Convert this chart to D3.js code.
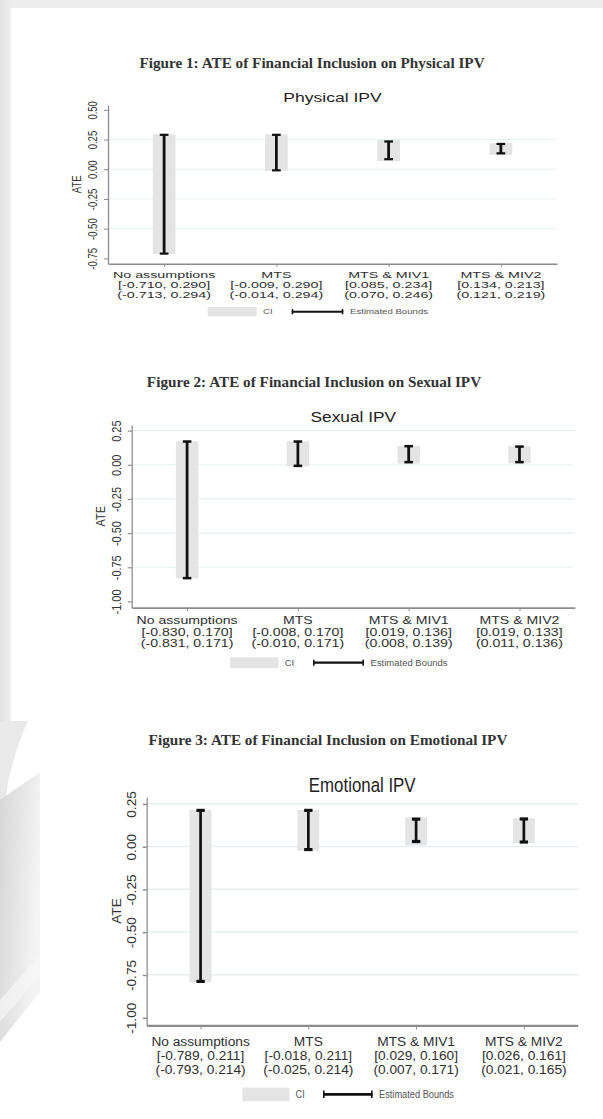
<!DOCTYPE html>
<html>
<head>
<meta charset="utf-8">
<script src="https://cdn.jsdelivr.net/npm/d3@7"></script>
<style>
  html, body { margin: 0; padding: 0; background: #fff; }
  svg { display: block; }
</style>
</head>
<body>
<svg id="page" width="603" height="1119"></svg>
<script>
// ---- data -------------------------------------------------------------
const categories = ["No assumptions", "MTS", "MTS & MIV1", "MTS & MIV2"];

const physicalBounds = [[-0.710, 0.290], [-0.009, 0.290], [0.085, 0.234], [0.134, 0.213]];
const physicalCI     = [[-0.713, 0.294], [-0.014, 0.294], [0.070, 0.246], [0.121, 0.219]];

const sexualBounds = [[-0.830, 0.170], [-0.008, 0.170], [0.019, 0.136], [0.019, 0.133]];
const sexualCI     = [[-0.831, 0.171], [-0.010, 0.171], [0.008, 0.139], [0.011, 0.136]];

const emotionalBounds = [[-0.789, 0.211], [-0.018, 0.211], [0.029, 0.160], [0.026, 0.161]];
const emotionalCI     = [[-0.793, 0.214], [-0.025, 0.214], [0.007, 0.171], [0.021, 0.165]];

const physicalTicks  = [0.50, 0.25, 0.00, -0.25, -0.50, -0.75];
const sexualTicks    = [0.25, 0.00, -0.25, -0.50, -0.75, -1.00];
const emotionalTicks = [0.25, 0.00, -0.25, -0.50, -0.75, -1.00];

const physicalGrid  = [0.25, 0.00, -0.25, -0.50];
const sexualGrid    = [0.25, 0.00, -0.25, -0.50, -0.75];
const emotionalGrid = [0.25, 0.00, -0.25, -0.50, -0.75];

const figureCaptions = [
  "Figure 1: ATE of Financial Inclusion on Physical IPV",
  "Figure 2: ATE of Financial Inclusion on Sexual IPV",
  "Figure 3: ATE of Financial Inclusion on Emotional IPV"
];
const panelTitles = ["Physical IPV", "Sexual IPV", "Emotional IPV"];
const yAxisTitle = "ATE";
const legendLabels = ["CI", "Estimated Bounds"];

// ---- layout -----------------------------------------------------------
const W = 449, H = 158.7;      // plot region of one graph
const SX = 1.3;                // horizontal stretch of the graph's lettering
const panels = [
  { title: panelTitles[0], bounds: physicalBounds, ci: physicalCI, ticks: physicalTicks, grid: physicalGrid,
    x0: 108, y0: 105, kx: 1.0, ky: 1.0, capX: 312, capY: 63 },
  { title: panelTitles[1], bounds: sexualBounds, ci: sexualCI, ticks: sexualTicks, grid: sexualGrid,
    x0: 131.7, y0: 425, kx: 0.987, ky: 1.15, capX: 314, capY: 381.7 },
  { title: panelTitles[2], bounds: emotionalBounds, ci: emotionalCI, ticks: emotionalTicks, grid: emotionalGrid,
    x0: 146.7, y0: 796.7, kx: 0.96, ky: 1.44, capX: 328, capY: 740 }
];

const svg = d3.select("#page");
const defs = svg.append("defs");

// ---- backdrop ---------------------------------------------------------
const slab = defs.append("linearGradient").attr("id", "slab")
  .attr("x1", "0").attr("y1", "0").attr("x2", "1").attr("y2", "0.3");
slab.append("stop").attr("offset", "0").attr("stop-color", "#d6d6d6");
slab.append("stop").attr("offset", "1").attr("stop-color", "#f4f4f4");
const strip = defs.append("linearGradient").attr("id", "strip")
  .attr("x1", "0").attr("y1", "0").attr("x2", "1").attr("y2", "0");
strip.append("stop").attr("offset", "0").attr("stop-color", "#e2e2e2");
strip.append("stop").attr("offset", "1").attr("stop-color", "#eeeeee");

svg.append("rect").attr("width", 603).attr("height", 1119).attr("fill", "#ffffff");
svg.append("rect").attr("x", 0).attr("y", 0).attr("width", 603).attr("height", 8).attr("fill", "#ededed");
svg.append("rect").attr("x", 0).attr("y", 0).attr("width", 11).attr("height", 721).attr("fill", "url(#strip)");
svg.append("path").attr("d", "M0,721 L28,721 Q12,755 5,800 L0,800 Z").attr("fill", "#e9e9e9");
svg.append("path").attr("d", "M0,800 L40,772 L40,992 L0,1042 Z").attr("fill", "url(#slab)");
svg.append("path").attr("d", "M0,1000 L40,955 L40,975 L0,1022 Z").attr("fill", "#f7f7f7").attr("opacity", 0.7);

// stretched text helper
function stretchedText(parent, x, y, str, size, sx, extra) {
  const g = parent.append("g").attr("transform", `translate(${x},${y}) scale(${sx},1)${extra || ""}`);
  return g.append("text").attr("x", 0).attr("y", 0)
    .attr("font-family", "'Liberation Sans', Arial, sans-serif")
    .attr("font-size", size).attr("text-anchor", "middle").text(str);
}

const f3 = v => v.toFixed(3);
const f2 = v => v.toFixed(2);

panels.forEach((p, i) => {
  // caption above each graph
  svg.append("g").attr("transform", `translate(${p.capX},${p.capY + 4.8}) scale(1.05,1)`)
    .append("text")
    .attr("text-anchor", "middle")
    .attr("font-family", "'Liberation Serif', 'Times New Roman', serif")
    .attr("font-weight", "bold").attr("font-size", 14.5)
    .attr("fill", "#333")
    .text(figureCaptions[i]);

  const g = svg.append("g").attr("transform", `translate(${p.x0},${p.y0}) scale(${p.kx},${p.ky})`);

  const tmin = d3.min(p.ticks), tmax = d3.max(p.ticks);
  const y = d3.scaleLinear().domain([tmin - 0.045, tmax + 0.041]).range([H, 0]);
  const x = d3.scalePoint().domain(categories).range([0, W]).padding(0.5);

  // grid
  g.append("g").selectAll("line").data(p.grid).join("line")
    .attr("x1", 0).attr("x2", W)
    .attr("y1", d => y(d)).attr("y2", d => y(d))
    .attr("stroke", "#e7f0f1").attr("stroke-width", 1);

  // CI boxes
  g.append("g").selectAll("rect").data(p.ci).join("rect")
    .attr("x", (d, j) => x(categories[j]) - 11.35)
    .attr("width", 22.7)
    .attr("y", d => y(d[1]))
    .attr("height", d => y(d[0]) - y(d[1]))
    .attr("fill", "#e4e4e4");

  // estimated bounds
  const eb = g.append("g").attr("stroke", "#111").attr("fill", "none");
  p.bounds.forEach((b, j) => {
    const cx = x(categories[j]);
    eb.append("line").attr("x1", cx).attr("x2", cx).attr("y1", y(b[0])).attr("y2", y(b[1]))
      .attr("stroke-width", 2.8);
    [b[0], b[1]].forEach(v => {
      eb.append("line").attr("x1", cx - 4.35).attr("x2", cx + 4.35)
        .attr("y1", y(v)).attr("y2", y(v)).attr("stroke-width", 2.2);
    });
  });

  // y axis
  const ya = g.append("g").call(
    d3.axisLeft(y).tickValues(p.ticks).tickSize(4).tickSizeOuter(0).tickFormat(f2)
  );
  ya.select(".domain").attr("stroke", "#8c8c8c").attr("stroke-width", 1.3);
  ya.selectAll(".tick line").attr("stroke", "#8c8c8c").attr("stroke-width", 1);
  ya.selectAll(".tick text").remove();
  ya.selectAll(".tick").each(function (d) {
    stretchedText(d3.select(this), -15, 0, f2(d), 9.5, SX, " rotate(-90)")
      .attr("dy", "0.35em").attr("fill", "#333");
  });

  // y axis title
  stretchedText(g, -31, H / 2, yAxisTitle, 9.5, SX, " rotate(-90)")
    .attr("dy", "0.35em").attr("fill", "#333");

  // x axis
  const xa = g.append("g").attr("transform", `translate(0,${H})`).call(
    d3.axisBottom(x).tickSize(3).tickSizeOuter(0).tickFormat("")
  );
  xa.select(".domain").attr("stroke", "#8c8c8c").attr("stroke-width", 1.5);
  xa.selectAll(".tick line").attr("stroke", "#8c8c8c");
  xa.selectAll(".tick text").remove();

  // three-line category labels: name, [bounds], (confidence interval)
  const labelSize = 9.2, labelSX = SX * 11 / labelSize;
  categories.forEach((c, j) => {
    const cx = x(c);
    const b = p.bounds[j], ci = p.ci[j];
    const lines = [c, `[${f3(b[0])}, ${f3(b[1])}]`, `(${f3(ci[0])}, ${f3(ci[1])})`];
    lines.forEach((t, k) => {
      stretchedText(g, cx, H + 14.6 + k * 9.8, t, labelSize, labelSX).attr("fill", "#2f2f2f");
    });
  });

  // title
  stretchedText(g, W / 2, -3, p.title, 13.5, SX).attr("fill", "#1e1e1e");

  // legend
  const ly = 206.7;
  g.append("rect").attr("x", 99.7).attr("y", ly - 4.7).attr("width", 49).attr("height", 9.4).attr("fill", "#e4e4e4");
  stretchedText(g, 155, ly + 2.6, legendLabels[0], 7.4, SX).attr("text-anchor", "start").attr("fill", "#555");
  const lg = g.append("g").attr("stroke", "#111");
  lg.append("line").attr("x1", 183.7).attr("x2", 235.3).attr("y1", ly).attr("y2", ly).attr("stroke-width", 2);
  lg.append("line").attr("x1", 184.5).attr("x2", 184.5).attr("y1", ly - 2.6).attr("y2", ly + 2.6).attr("stroke-width", 1.6);
  lg.append("line").attr("x1", 234.5).attr("x2", 234.5).attr("y1", ly - 2.6).attr("y2", ly + 2.6).attr("stroke-width", 1.6);
  stretchedText(g, 242, ly + 2.6, legendLabels[1], 7.4, SX).attr("text-anchor", "start").attr("fill", "#555");
});
</script>
</body>
</html>
